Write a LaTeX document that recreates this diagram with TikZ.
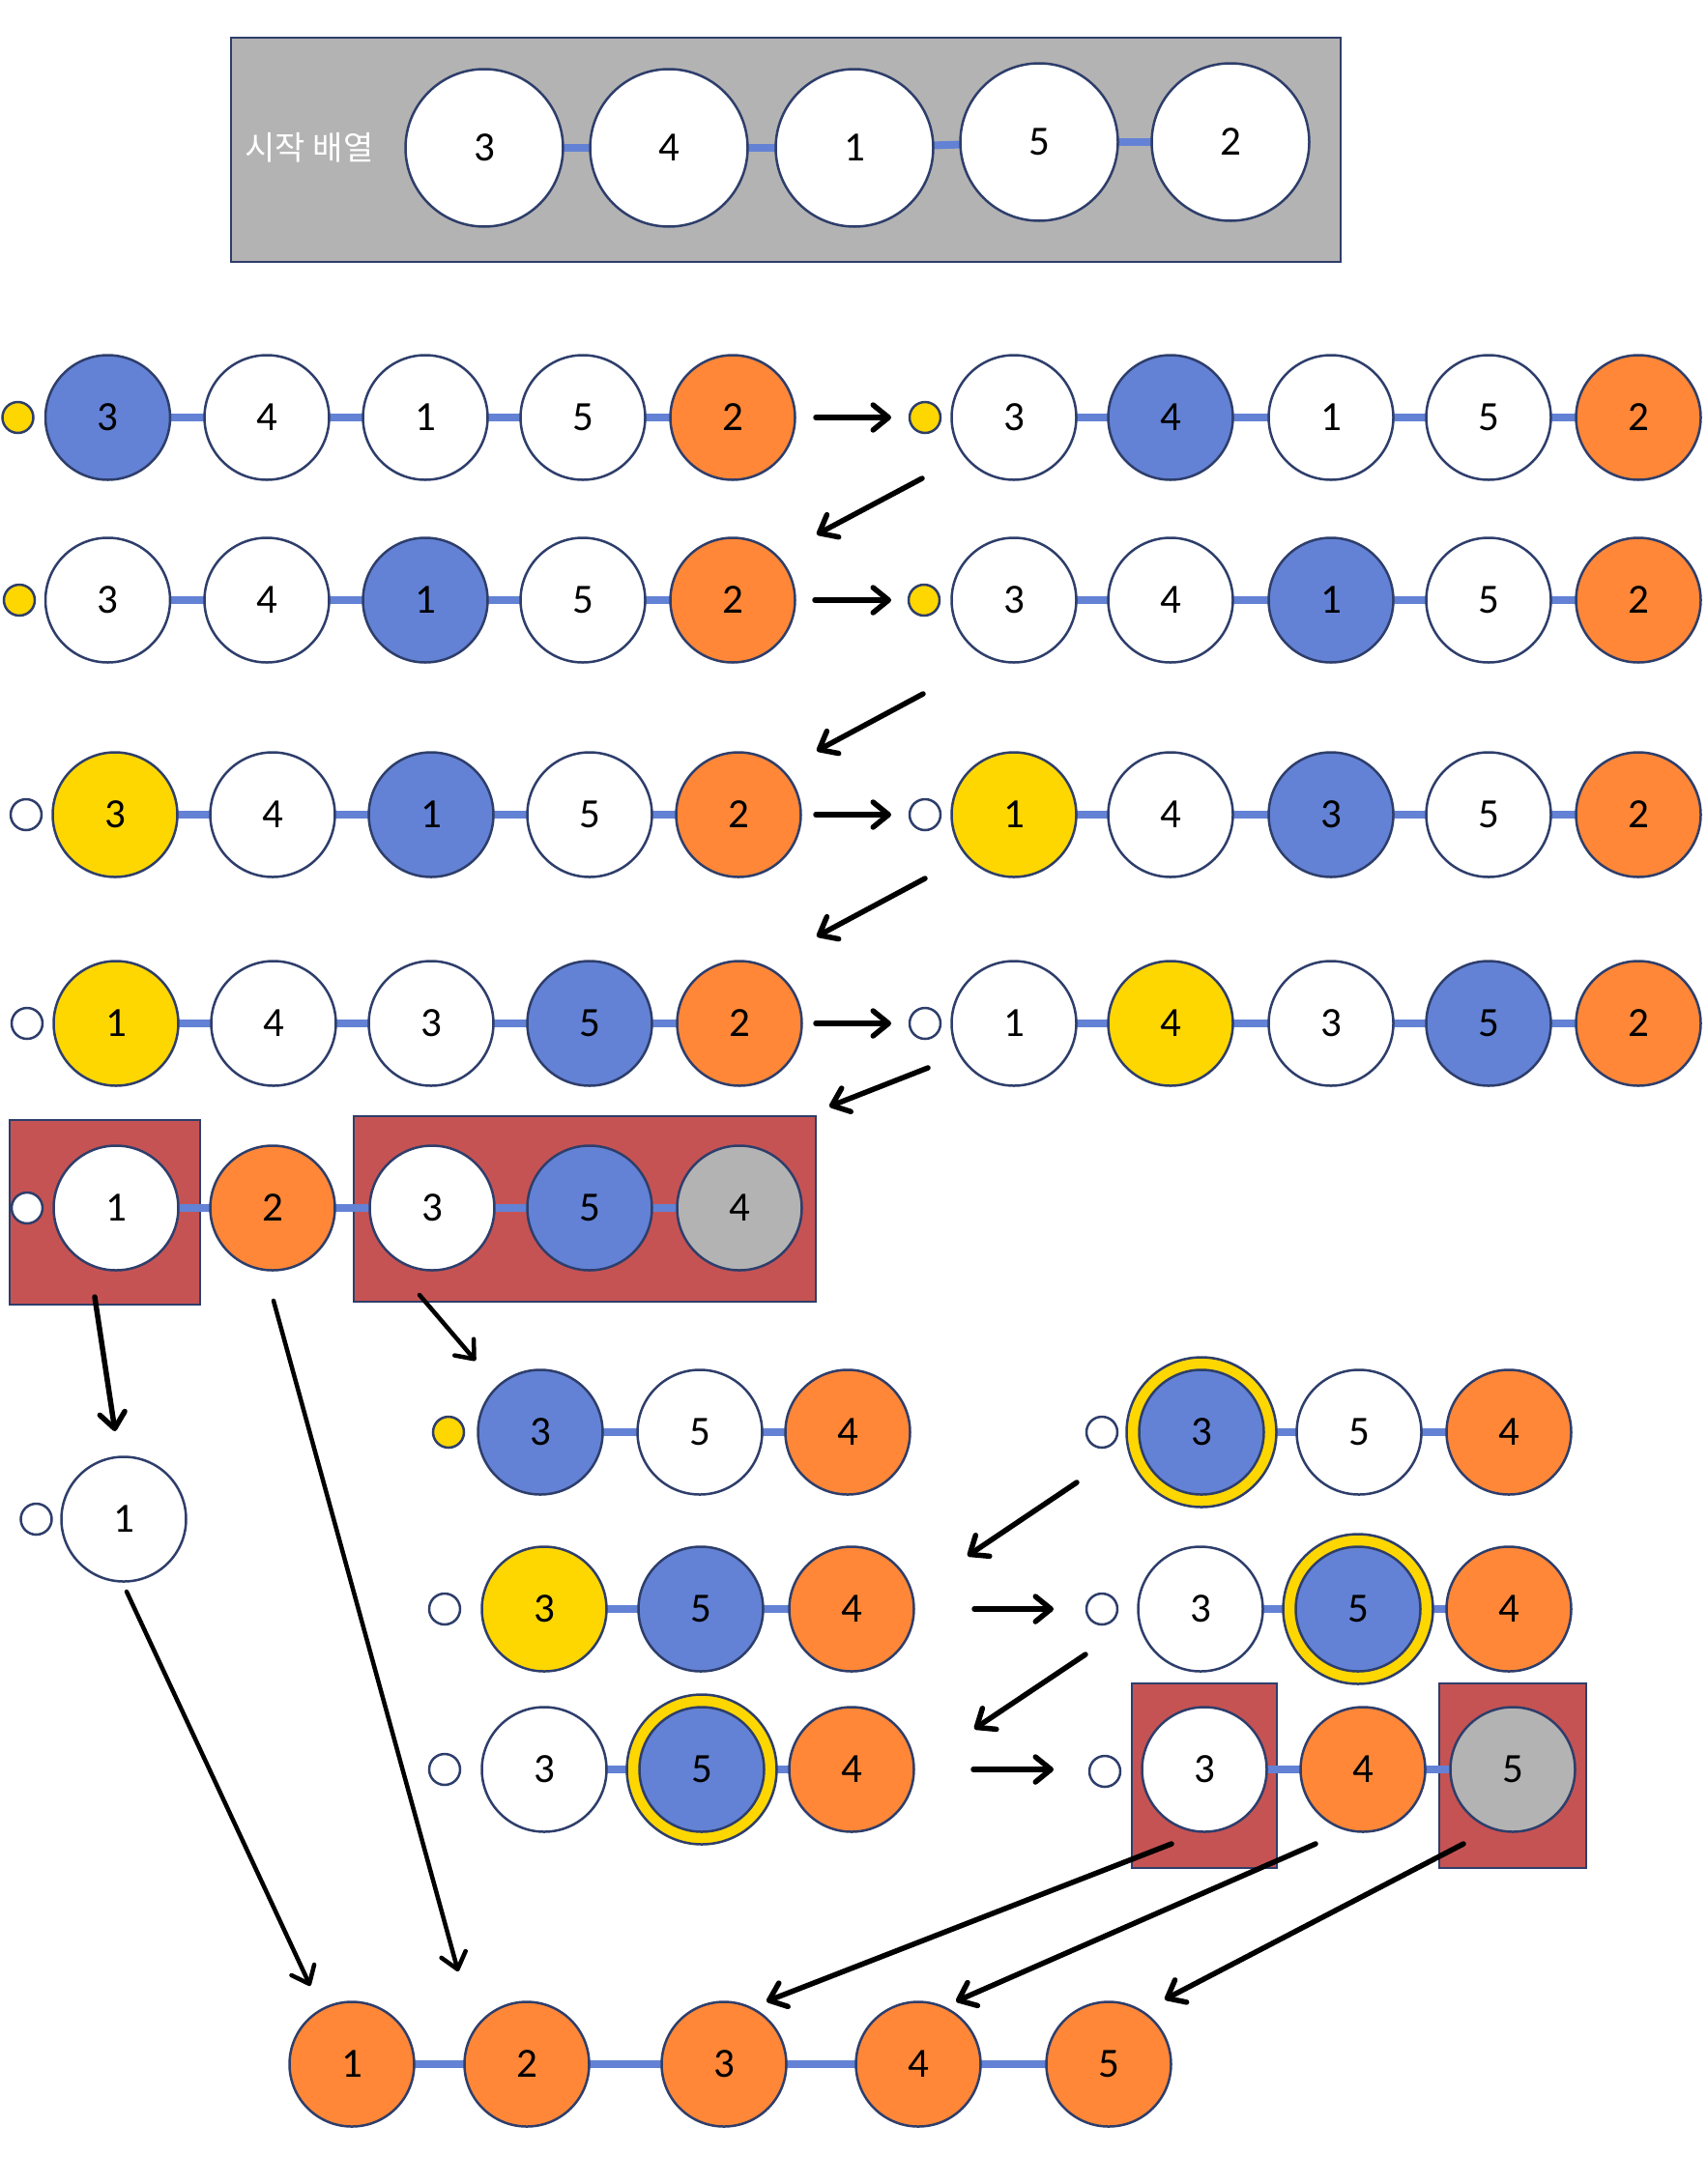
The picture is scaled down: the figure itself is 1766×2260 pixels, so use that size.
\documentclass[tikz,border=0pt]{standalone}
\usepackage{fontspec}
\setmainfont{Carlito}
\newfontfamily\krfont{Noto Sans CJK KR}
\usetikzlibrary{arrows.meta}
\pgfdeclarelayer{boxlayer}
\pgfdeclarelayer{linklayer}
\pgfsetlayers{boxlayer,linklayer,main}
\definecolor{edgecol}{RGB}{46,62,107}
\definecolor{bluec}{RGB}{99,130,213}
\definecolor{orangec}{RGB}{255,135,55}
\definecolor{yellowc}{RGB}{255,215,0}
\definecolor{redc}{RGB}{198,83,83}
\definecolor{grayc}{RGB}{179,179,179}
\newcommand\numsize{\fontsize{43pt}{50pt}\selectfont}
\begin{document}
\begin{tikzpicture}[x=1pt,y=-1pt,
  ball/.style={circle, draw=edgecol, line width=2.5pt, minimum size=129pt, inner sep=0pt, font=\numsize},
  wb/.style={ball, fill=white},
  bb/.style={ball, fill=bluec},
  ob/.style={ball, fill=orangec},
  yb/.style={ball, fill=yellowc},
  gb/.style={ball, fill=grayc},
  bigb/.style={wb, minimum size=163pt},
  ringb/.style={circle, draw=edgecol, line width=2.5pt, fill=yellowc, minimum size=155pt, inner sep=0pt},
  dot/.style={circle, draw=edgecol, line width=2.5pt, minimum size=32pt, inner sep=0pt},
  ydot/.style={dot, fill=yellowc},
  wdot/.style={dot, fill=white},
  redbox/.style={rectangle, draw=edgecol, line width=2pt, fill=redc, inner sep=0pt},
  graybox/.style={rectangle, draw=edgecol, line width=2.5pt, fill=grayc, inner sep=0pt},
  link/.style={draw=bluec, line width=8pt},
  arr/.style={draw=black, line width=5.5pt, line cap=round, -{Straight Barb[length=16pt,width=26pt,round]}},
  arrthin/.style={arr, line width=4.5pt}
]
\useasboundingbox (0,0) rectangle (1766,2260);

% ---------- top box ----------
\begin{pgfonlayer}{boxlayer}
\node[graybox, minimum width=1148pt, minimum height=232pt] (topbox) at (813,155) {};
\end{pgfonlayer}
\node[text=white, font=\krfont\fontsize{34pt}{40pt}\selectfont] (lab) at (320,153) {시작 배열};
\node[bigb] (t1) at (501,153) {3};
\node[bigb] (t2) at (692,153) {4};
\node[bigb] (t3) at (884,153) {1};
\node[bigb] (t4) at (1075,147) {5};
\node[bigb] (t5) at (1273,147) {2};

% ---------- row 1 ----------
\node[ydot] (da1) at (18.5,432) {};
\node[bb] (a11) at (111.5,432) {3};
\node[wb] (a12) at (276,432) {4};
\node[wb] (a13) at (440,432) {1};
\node[wb] (a14) at (603,432) {5};
\node[ob] (a15) at (758,432) {2};
\node[ydot] (db1) at (957,432) {};
\node[wb] (b11) at (1049,432) {3};
\node[bb] (b12) at (1211,432) {4};
\node[wb] (b13) at (1377,432) {1};
\node[wb] (b14) at (1540,432) {5};
\node[ob] (b15) at (1695,432) {2};

% ---------- row 2 ----------
\node[ydot] (da2) at (20,621) {};
\node[wb] (a21) at (111.5,621) {3};
\node[wb] (a22) at (276,621) {4};
\node[bb] (a23) at (440,621) {1};
\node[wb] (a24) at (603,621) {5};
\node[ob] (a25) at (758,621) {2};
\node[ydot] (db2) at (956,621) {};
\node[wb] (b21) at (1049,621) {3};
\node[wb] (b22) at (1211,621) {4};
\node[bb] (b23) at (1377,621) {1};
\node[wb] (b24) at (1540,621) {5};
\node[ob] (b25) at (1695,621) {2};

% ---------- row 3 ----------
\node[wdot] (da3) at (27,843) {};
\node[yb] (a31) at (119,843) {3};
\node[wb] (a32) at (282,843) {4};
\node[bb] (a33) at (446,843) {1};
\node[wb] (a34) at (610,843) {5};
\node[ob] (a35) at (764,843) {2};
\node[wdot] (db3) at (957,843) {};
\node[yb] (b31) at (1049,843) {1};
\node[wb] (b32) at (1211,843) {4};
\node[bb] (b33) at (1377,843) {3};
\node[wb] (b34) at (1540,843) {5};
\node[ob] (b35) at (1695,843) {2};

% ---------- row 4 ----------
\node[wdot] (da4) at (28,1059) {};
\node[yb] (a41) at (120,1059) {1};
\node[wb] (a42) at (283,1059) {4};
\node[wb] (a43) at (446,1059) {3};
\node[bb] (a44) at (610,1059) {5};
\node[ob] (a45) at (765,1059) {2};
\node[wdot] (db4) at (957,1059) {};
\node[wb] (b41) at (1049,1059) {1};
\node[yb] (b42) at (1211,1059) {4};
\node[wb] (b43) at (1377,1059) {3};
\node[bb] (b44) at (1540,1059) {5};
\node[ob] (b45) at (1695,1059) {2};

% ---------- row 5 ----------
\begin{pgfonlayer}{boxlayer}
\node[redbox, minimum width=197pt, minimum height=191pt] (rb1) at (108.5,1254.5) {};
\node[redbox, minimum width=478pt, minimum height=192pt] (rb2) at (605,1251) {};
\node[redbox, minimum width=150pt, minimum height=191pt] (rb3) at (1246,1837.5) {};
\node[redbox, minimum width=152pt, minimum height=191pt] (rb4) at (1565,1837.5) {};
\end{pgfonlayer}
\node[wdot] (da5) at (28,1250) {};
\node[wb] (a51) at (120,1250) {1};
\node[ob] (a52) at (282,1250) {2};
\node[wb] (a53) at (447,1250) {3};
\node[bb] (a54) at (610,1250) {5};
\node[gb] (a55) at (765,1250) {4};

% ---------- lone 1 ----------
\node[wdot] (dl) at (37.5,1572) {};
\node[wb] (l1) at (128,1572) {1};

% ---------- sub row A ----------
\node[ydot] (dA1) at (464,1482) {};
\node[bb] (A11) at (559,1482) {3};
\node[wb] (A12) at (724,1482) {5};
\node[ob] (A13) at (877,1482) {4};
\node[wdot] (dA2) at (1140,1482) {};
\node[ringb] (rA) at (1243,1482) {};
\node[bb] (A21) at (1243,1482) {3};
\node[wb] (A22) at (1406,1482) {5};
\node[ob] (A23) at (1561,1482) {4};

% ---------- sub row B ----------
\node[wdot] (dB1) at (460,1665) {};
\node[yb] (B11) at (563,1665) {3};
\node[bb] (B12) at (725,1665) {5};
\node[ob] (B13) at (881,1665) {4};
\node[wdot] (dB2) at (1140,1665) {};
\node[wb] (B21) at (1242,1665) {3};
\node[ringb] (rB) at (1405,1665) {};
\node[bb] (B22) at (1405,1665) {5};
\node[ob] (B23) at (1561,1665) {4};

% ---------- sub row C ----------
\node[wdot] (dC1) at (460,1831) {};
\node[wb] (C11) at (563,1831) {3};
\node[ringb] (rC) at (726,1831) {};
\node[bb] (C12) at (726,1831) {5};
\node[ob] (C13) at (881,1831) {4};
\node[wdot] (dC2) at (1143,1833) {};
\node[wb] (C21) at (1246,1831) {3};
\node[ob] (C22) at (1410,1831) {4};
\node[gb] (C23) at (1565,1831) {5};

% ---------- final row ----------
\node[ob] (f1) at (364,2136) {1};
\node[ob] (f2) at (545,2136) {2};
\node[ob] (f3) at (749,2136) {3};
\node[ob] (f4) at (950,2136) {4};
\node[ob] (f5) at (1147,2136) {5};

% ---------- links ----------
\begin{pgfonlayer}{linklayer}
\foreach \p/\q in {t1/t2,t2/t3,t3/t4,t4/t5,
  a11/a12,a12/a13,a13/a14,a14/a15, b11/b12,b12/b13,b13/b14,b14/b15,
  a21/a22,a22/a23,a23/a24,a24/a25, b21/b22,b22/b23,b23/b24,b24/b25,
  a31/a32,a32/a33,a33/a34,a34/a35, b31/b32,b32/b33,b33/b34,b34/b35,
  a41/a42,a42/a43,a43/a44,a44/a45, b41/b42,b42/b43,b43/b44,b44/b45,
  a51/a52,a52/a53,a53/a54,a54/a55,
  A11/A12,A12/A13, A21/A22,A22/A23,
  B11/B12,B12/B13, B21/B22,B22/B23,
  C11/C12,C12/C13, C21/C22,C22/C23,
  f1/f2,f2/f3,f3/f4,f4/f5}
  \draw[link] (\p.center) -- (\q.center);
\end{pgfonlayer}

% ---------- arrow end points ----------
\coordinate (p1s) at (844,432);   \coordinate (p1e) at (922,432);
\coordinate (q1s) at (954,495);   \coordinate (q1e) at (845,553);
\coordinate (p2s) at (843,621);   \coordinate (p2e) at (922,621);
\coordinate (q2s) at (955,718);   \coordinate (q2e) at (845,777);
\coordinate (p3s) at (844,843);   \coordinate (p3e) at (922,843);
\coordinate (q3s) at (957,909);   \coordinate (q3e) at (845,969);
\coordinate (p4s) at (844,1059);  \coordinate (p4e) at (922,1059);
\coordinate (q4s) at (960,1105);  \coordinate (q4e) at (858,1145);
\coordinate (e1s) at (98,1342);   \coordinate (e1e) at (119,1481);
\coordinate (e2s) at (283,1346);  \coordinate (e2e) at (474,2040);
\coordinate (e3s) at (434,1340);  \coordinate (e3e) at (492,1408);
\coordinate (e4s) at (131,1647);  \coordinate (e4e) at (321,2055);
\coordinate (r1s) at (1114,1534); \coordinate (r1e) at (1001,1610);
\coordinate (r2s) at (1123,1712); \coordinate (r2e) at (1008,1789);
\coordinate (g1s) at (1008,1665); \coordinate (g1e) at (1090,1665);
\coordinate (g2s) at (1007,1831); \coordinate (g2e) at (1090,1831);
\coordinate (h1s) at (1212,1908); \coordinate (h1e) at (793,2071);
\coordinate (h2s) at (1361,1908); \coordinate (h2e) at (989,2071);
\coordinate (h3s) at (1514,1908); \coordinate (h3e) at (1205,2069);

% ---------- arrows ----------
\foreach \s/\e in {p1s/p1e,q1s/q1e,p2s/p2e,q2s/q2e,p3s/p3e,q3s/q3e,p4s/p4e,q4s/q4e,
  e1s/e1e,r1s/r1e,r2s/r2e,g1s/g1e,g2s/g2e,h1s/h1e,h2s/h2e,h3s/h3e}
  \draw[arr] (\s) -- (\e);
\foreach \s/\e in {e2s/e2e,e3s/e3e,e4s/e4e}
  \draw[arrthin] (\s) -- (\e);
\end{tikzpicture}
\end{document}
